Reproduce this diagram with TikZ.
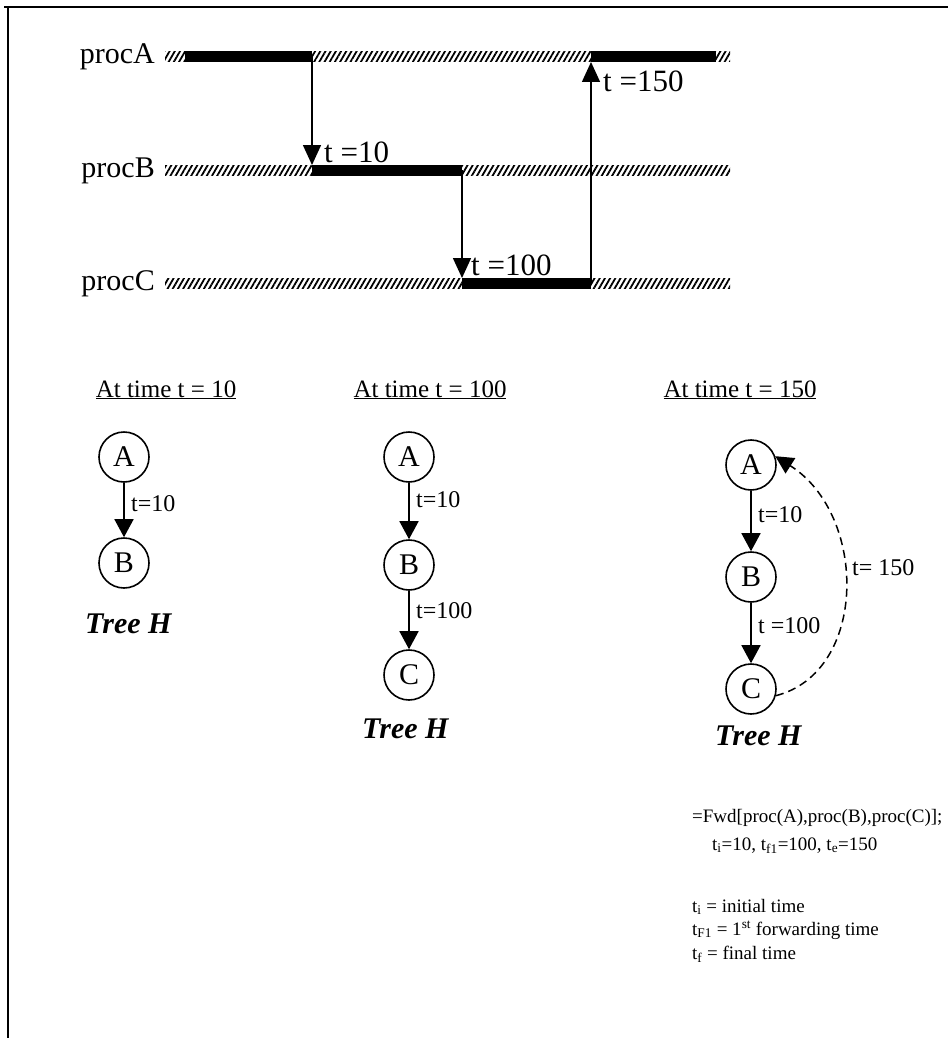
\documentclass[tikz,border=0pt]{standalone}
\usepackage{fontspec}
\setmainfont{Liberation Serif}
\usetikzlibrary{arrows.meta, patterns.meta}

\tikzset{
  proclabel/.style={anchor=base east, inner sep=0pt, font=\fontsize{30}{34}\selectfont},
  hatchband/.style={pattern={Lines[angle=60,distance=4.5pt,line width=1.8pt]}},
  busy/.style={line width=11pt},
  msg/.style={-{Triangle[length=20pt,width=18pt]}, line width=1.5pt},
  timelbl/.style={anchor=base west, inner sep=0pt, font=\fontsize{31}{34}\selectfont},
  heading/.style={anchor=base, inner sep=0pt, font=\fontsize{25}{30}\selectfont},
  procnode/.style={circle, draw, line width=1.6pt, minimum size=50pt, inner sep=0pt,
    font=\fontsize{30}{32}\selectfont},
  treearrow/.style={-{Triangle[length=18pt,width=19pt]}, line width=1.6pt},
  edgelbl/.style={anchor=base west, inner sep=0pt, font=\fontsize{24}{26}\selectfont},
  treename/.style={anchor=base west, inner sep=0pt, font=\fontsize{30}{34}\selectfont\bfseries\itshape},
  notes/.style={anchor=base west, inner sep=0pt, font=\fontsize{19}{24}\selectfont},
}

\begin{document}
\begin{tikzpicture}[x=1pt,y=-1pt]
  \useasboundingbox (0,0) rectangle (948,1038);
  % page frame (top and left edges only)
  \draw[line width=2pt] (4,7) -- (948,7);
  \draw[line width=2pt] (8,7) -- (8,1038);

  % process time lines
  \node[proclabel] (procA) at (155,64)  {procA};
  \node[proclabel] (procB) at (155,177) {procB};
  \node[proclabel] (procC) at (155,290) {procC};
  \fill[hatchband] (165,52)  rectangle (730,62);
  \fill[hatchband] (165,165) rectangle (730,175);
  \fill[hatchband] (165,278) rectangle (730,288);

  \coordinate (a0) at (185,57);  \coordinate (a1) at (312,57);
  \coordinate (b1) at (312,170); \coordinate (b2) at (462,170);
  \coordinate (c2) at (462,283); \coordinate (c3) at (591,283);
  \coordinate (a3) at (591,57);  \coordinate (a4) at (716,57);
  \draw[busy] (a0) -- (a1);
  \draw[busy] (b1) -- (b2);
  \draw[busy] (c2) -- (c3);
  \draw[busy] (a3) -- (a4);

  % forwarding messages
  \draw[msg] (a1) -- ([yshift=5pt]b1);
  \draw[msg] (b2) -- ([yshift=5pt]c2);
  \draw[msg] (c3) -- ([yshift=-5pt]a3);
  \node[timelbl] (t10)  at (324,162) {t =10};
  \node[timelbl] (t100) at (471,275) {t =100};
  \node[timelbl] (t150) at (603,92)  {t =150};

  % tree at t = 10
  \node[heading] (h1) at (166,397) {\underline{At time t = 10}};
  \node[procnode] (A1) at (124,457) {A};
  \node[procnode] (B1) at (124,563) {B};
  \draw[treearrow] (A1) -- (B1);
  \node[edgelbl] at (131,511) {t=10};
  \node[treename] (tree1) at (85,633) {Tree H};

  % tree at t = 100
  \node[heading] (h2) at (430,397) {\underline{At time t = 100}};
  \node[procnode] (A2) at (409,457) {A};
  \node[procnode] (B2) at (409,565) {B};
  \node[procnode] (C2) at (409,675) {C};
  \draw[treearrow] (A2) -- (B2);
  \draw[treearrow] (B2) -- (C2);
  \node[edgelbl] at (416,507) {t=10};
  \node[edgelbl] at (416,618) {t=100};
  \node[treename] (tree2) at (362,738) {Tree H};

  % tree at t = 150
  \node[heading] (h3) at (740,397) {\underline{At time t = 150}};
  \node[procnode] (A3) at (751,465) {A};
  \node[procnode] (B3) at (751,577) {B};
  \node[procnode] (C3) at (751,689) {C};
  \draw[treearrow] (A3) -- (B3);
  \draw[treearrow] (B3) -- (C3);
  \draw[dash pattern=on 8pt off 5pt, line width=1.5pt, -{Triangle[length=18pt,width=18pt]}]
    (C3.-15) .. controls (868,672) and (868,515) .. (A3.20);
  \node[edgelbl] at (758,522) {t=10};
  \node[edgelbl] at (758,633) {t =100};
  \node[edgelbl] at (852,575) {t= 150};
  \node[treename] (tree3) at (715,745) {Tree H};

  % forwarding notation
  \node[notes] (fwd)   at (692,822) {=Fwd[proc(A),proc(B),proc(C)];};
  \node[notes] (times) at (712,850) {t\textsubscript{i}=10, t\textsubscript{f1}=100, t\textsubscript{e}=150};
  \node[notes] (defi)  at (692,912) {t\textsubscript{i} = initial time};
  \node[notes] (deff1) at (692,935) {t\textsubscript{F1} = 1\textsuperscript{st} forwarding time};
  \node[notes] (deff)  at (692,959) {t\textsubscript{f} = final time};
\end{tikzpicture}
\end{document}
